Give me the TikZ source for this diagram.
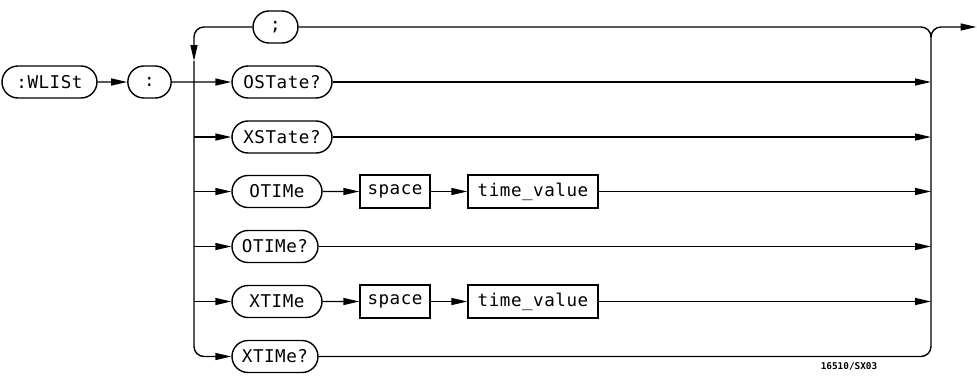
\documentclass[tikz,border=0pt]{standalone}
\usepackage{fontspec}
\newfontfamily\plotfont[LetterSpace=3]{DejaVu Sans Mono}
\newfontfamily\figfont{DejaVu Sans Mono}
\usetikzlibrary{shapes.misc,arrows.meta}

\begin{document}
\begin{tikzpicture}[x=0.3mm, y=-0.3mm, line width=1.2pt,
    keyword/.style={draw, rounded rectangle, minimum height=9.6mm, inner sep=0pt,
      font=\plotfont\fontsize{15}{18}\selectfont},
    param/.style={draw, rectangle, minimum height=10mm, inner sep=0pt,
      font=\plotfont\fontsize{15}{18}\selectfont},
    flow/.style={-{Triangle[length=4.8mm,width=2.1mm]}},
    buscorner/.style={rounded corners=3mm}]
    \useasboundingbox (0,0) rectangle (977,381);

    % command and separator
    \node[keyword, minimum width=28.5mm] (wlist) at (49.5,82) {:WLISt};
    \node[keyword, minimum width=13mm] (colon) at (149.5,82) {:};

    % branches
    \node[keyword, minimum width=13.5mm] (semi)   at (275.5,27)  {;};
    \node[keyword, minimum width=30mm]   (ostate) at (282,82)    {OSTate?};
    \node[keyword, minimum width=30mm]   (xstate) at (282,137)   {XSTate?};
    \node[keyword, minimum width=27mm]   (otime)  at (277,191.5) {OTIMe};
    \node[param,   minimum width=21mm]   (spaceo) at (395,191.5) {space};
    \node[param,   minimum width=39mm]   (valo)   at (533,191.5) {time\_value};
    \node[keyword, minimum width=25.8mm] (otimeq) at (275,246.5) {OTIMe?};
    \node[keyword, minimum width=27mm]   (xtime)  at (277,301.5) {XTIMe};
    \node[param,   minimum width=21mm]   (spacex) at (395,301.5) {space};
    \node[param,   minimum width=39mm]   (valx)   at (533,301.5) {time\_value};
    \node[keyword, minimum width=25.8mm] (xtimeq) at (275,356.5) {XTIMe?};

    \node[font=\figfont\bfseries\fontsize{8}{10}\selectfont] (figno) at (849,366) {16510/SX03};

    % bus points
    \coordinate (lbus) at (194,0);
    \coordinate (ldown) at (194,61);
    \coordinate (rbus) at (931,0);
    \coordinate (rjoin) at (931,37);
    \coordinate (out) at (976.5,27);

    \draw[flow] (wlist) -- (colon);
    \draw[flow] (colon) -- (ostate);

    % loop back through ;
    \draw[buscorner] (rjoin) |- (semi.east);
    \draw[buscorner, flow] (semi.west) -| (ldown);
    \draw[buscorner, flow] (ldown) |- (xtimeq.west);
    \foreach \n in {xstate,otime,otimeq,xtime}
      \draw[flow] (\n.west -| lbus) -- (\n.west);

    % parameters
    \draw[flow] (otime) -- (spaceo);
    \draw[flow] (spaceo) -- (valo);
    \draw[flow] (xtime) -- (spacex);
    \draw[flow] (spacex) -- (valx);

    % into the right bus
    \foreach \n in {ostate,xstate,valo,otimeq,valx}
      \draw[flow] (\n.east) -- (\n.east -| rbus);
    \draw[buscorner] (xtimeq.east) -| (rjoin);
    \draw[buscorner, flow] (rjoin) |- (out);
\end{tikzpicture}
\end{document}
